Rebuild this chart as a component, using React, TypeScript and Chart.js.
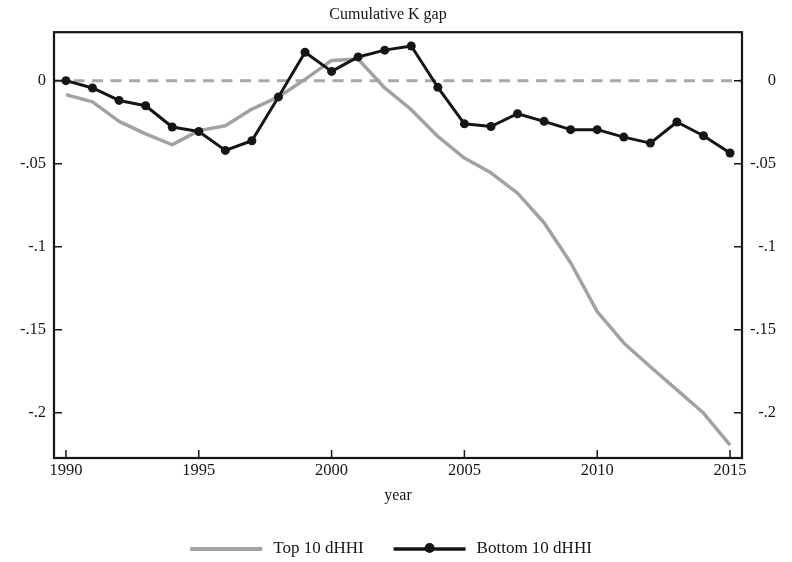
import { useEffect, useRef } from "react";
import { Chart, registerables } from "chart.js";

Chart.register(...registerables);

// ---- data ----
const years = [
  1990, 1991, 1992, 1993, 1994, 1995, 1996, 1997, 1998, 1999, 2000, 2001, 2002,
  2003, 2004, 2005, 2006, 2007, 2008, 2009, 2010, 2011, 2012, 2013, 2014, 2015,
];

const top10 = [
  -0.0084, -0.0128, -0.0245, -0.032, -0.0386, -0.0301, -0.0271, -0.0171, -0.0098,
  0.0008, 0.0122, 0.013, -0.0044, -0.0175, -0.0336, -0.0466, -0.0555, -0.0677,
  -0.0856, -0.1097, -0.1391, -0.158, -0.1723, -0.1863, -0.2002, -0.2195,
];

const bottom10 = [
  0.0, -0.0044, -0.0119, -0.0151, -0.0279, -0.0306, -0.042, -0.0362, -0.0098,
  0.0171, 0.0056, 0.0143, 0.0184, 0.0209, -0.004, -0.026, -0.0276, -0.0199,
  -0.0245, -0.0295, -0.0295, -0.034, -0.0376, -0.0249, -0.0332, -0.0436,
];

const seriesNames = ["Top 10 dHHI", "Bottom 10 dHHI"];
const xTicks = [1990, 1995, 2000, 2005, 2010, 2015];
const yTicks = [0, -0.05, -0.1, -0.15, -0.2];
const yTickLabels = ["0", "-.05", "-.1", "-.15", "-.2"];
const chartTitle = "Cumulative K gap";
const xAxisTitle = "year";

// ---- styling ----
const FONT = "'Liberation Serif', 'Times New Roman', serif";
const INK = "#151515";
const GRAY = "#a2a2a2";
const DASH_GRAY = "#a8a8a8";
const X_MIN = 1989.55;
const X_MAX = 2015.45;
const Y_MIN = -0.2273;
const Y_MAX = 0.0292;

// zero reference line, plot frame and inward tick marks
const framePlugin = {
  id: "stataFrame",
  beforeDatasetsDraw(chart: any) {
    const { ctx, chartArea: a, scales } = chart;
    const y0 = scales.y.getPixelForValue(0);
    ctx.save();
    ctx.strokeStyle = DASH_GRAY;
    ctx.lineWidth = 3;
    ctx.setLineDash([11, 7.5]);
    ctx.beginPath();
    ctx.moveTo(a.left + 1, y0);
    ctx.lineTo(a.right - 1, y0);
    ctx.stroke();
    ctx.restore();
  },
  afterDatasetsDraw(chart: any) {
    const { ctx, chartArea: a, scales } = chart;
    const tick = 8;
    ctx.save();
    ctx.strokeStyle = INK;
    ctx.lineWidth = 2.2;
    ctx.strokeRect(a.left, a.top, a.right - a.left, a.bottom - a.top);
    ctx.lineWidth = 1.5;
    ctx.beginPath();
    for (const t of scales.y.ticks) {
      const py = scales.y.getPixelForValue(t.value);
      ctx.moveTo(a.left, py);
      ctx.lineTo(a.left + tick, py);
    }
    for (const t of scales.y2.ticks) {
      const py = scales.y2.getPixelForValue(t.value);
      ctx.moveTo(a.right, py);
      ctx.lineTo(a.right - tick, py);
    }
    for (const t of scales.x.ticks) {
      const px = scales.x.getPixelForValue(t.value);
      ctx.moveTo(px, a.bottom);
      ctx.lineTo(px, a.bottom - tick);
    }
    ctx.stroke();
    ctx.restore();
  },
};

// legend drawn under the axis title
const legendPlugin = {
  id: "lineLegend",
  afterDraw(chart: any) {
    const { ctx } = chart;
    const y = chart.height - 13;
    const lineLen = 72;
    const textGap = 11;
    const itemGap = 30;
    ctx.save();
    ctx.font = `17px ${FONT}`;
    ctx.textBaseline = "middle";
    ctx.textAlign = "left";
    const items = chart.data.datasets.map((ds: any) => ({
      label: ds.label as string,
      color: ds.borderColor as string,
      width: ds.borderWidth as number,
      marker: (ds.pointRadius as number) > 0,
      textW: ctx.measureText(ds.label).width,
    }));
    const total =
      items.reduce((s: number, it: any) => s + lineLen + textGap + it.textW, 0) +
      itemGap * (items.length - 1);
    let x = 391 - total / 2;
    for (const it of items) {
      ctx.strokeStyle = it.color;
      ctx.lineWidth = it.width + 0.5;
      ctx.beginPath();
      ctx.moveTo(x, y);
      ctx.lineTo(x + lineLen, y);
      ctx.stroke();
      if (it.marker) {
        ctx.fillStyle = it.color;
        ctx.beginPath();
        ctx.arc(x + lineLen / 2, y - 1, 5, 0, Math.PI * 2);
        ctx.fill();
      }
      ctx.fillStyle = INK;
      ctx.fillText(it.label, x + lineLen + textGap, y);
      x += lineLen + textGap + it.textW + itemGap;
    }
    ctx.restore();
  },
};

export default function App() {
  const canvasRef = useRef<HTMLCanvasElement | null>(null);

  useEffect(() => {
    const canvas = canvasRef.current;
    if (!canvas) return;

    const tickFont = { family: FONT, size: 16.5 };

    const chart = new Chart(canvas, {
      type: "line",
      data: {
        datasets: [
          {
            label: seriesNames[0],
            data: years.map((x, i) => ({ x, y: top10[i] })),
            borderColor: GRAY,
            borderWidth: 3.5,
            pointRadius: 0,
            borderJoinStyle: "round",
            tension: 0,
            yAxisID: "y",
            order: 2,
          },
          {
            label: seriesNames[1],
            data: years.map((x, i) => ({ x, y: bottom10[i] })),
            borderColor: INK,
            borderWidth: 3,
            pointRadius: 4.5,
            pointBackgroundColor: INK,
            pointBorderWidth: 0,
            borderJoinStyle: "round",
            tension: 0,
            yAxisID: "y",
            order: 1,
          },
        ],
      },
      options: {
        animation: false,
        responsive: true,
        maintainAspectRatio: false,
        layout: { padding: { left: 0, right: 16, top: 0, bottom: 0 } },
        plugins: {
          legend: { display: false },
          tooltip: { enabled: false },
          title: {
            display: true,
            text: chartTitle,
            color: INK,
            font: { family: FONT, size: 16, weight: "normal" },
            padding: { top: 5, bottom: 8 },
          },
        },
        scales: {
          x: {
            type: "linear",
            min: X_MIN,
            max: X_MAX,
            afterBuildTicks: (s: any) => {
              s.ticks = xTicks.map((v) => ({ value: v }));
            },
            afterFit: (s: any) => {
              s.height = 104;
            },
            grid: { display: false, drawTicks: false },
            border: { display: false },
            ticks: {
              padding: 3,
              color: INK,
              font: tickFont,
              maxRotation: 0,
              autoSkip: false,
              callback: (v: any) => String(v),
            },
            title: {
              display: true,
              text: xAxisTitle,
              color: INK,
              font: { family: FONT, size: 16 },
              padding: { top: 0, bottom: 57 },
            },
          },
          y: {
            type: "linear",
            position: "left",
            min: Y_MIN,
            max: Y_MAX,
            afterBuildTicks: (s: any) => {
              s.ticks = yTicks.map((v) => ({ value: v }));
            },
            afterFit: (s: any) => {
              s.width = 54;
            },
            grid: { display: false, drawTicks: false },
            border: { display: false },
            ticks: {
              padding: 8,
              color: INK,
              font: tickFont,
              crossAlign: "near",
              callback: (_v: any, i: number) => yTickLabels[i],
            },
          },
          y2: {
            type: "linear",
            position: "right",
            min: Y_MIN,
            max: Y_MAX,
            afterBuildTicks: (s: any) => {
              s.ticks = yTicks.map((v) => ({ value: v }));
            },
            afterFit: (s: any) => {
              s.width = 34;
            },
            grid: { display: false, drawTicks: false },
            border: { display: false },
            ticks: {
              padding: 8,
              color: INK,
              font: tickFont,
              crossAlign: "far",
              callback: (_v: any, i: number) => yTickLabels[i],
            },
          },
        },
      } as any,
      plugins: [framePlugin, legendPlugin],
    });

    return () => chart.destroy();
  }, []);

  return (
    <div
      style={{
        position: "fixed",
        left: 0,
        top: 0,
        width: 792,
        height: 562,
        background: "#ffffff",
      }}
    >
      <canvas ref={canvasRef} />
    </div>
  );
}
